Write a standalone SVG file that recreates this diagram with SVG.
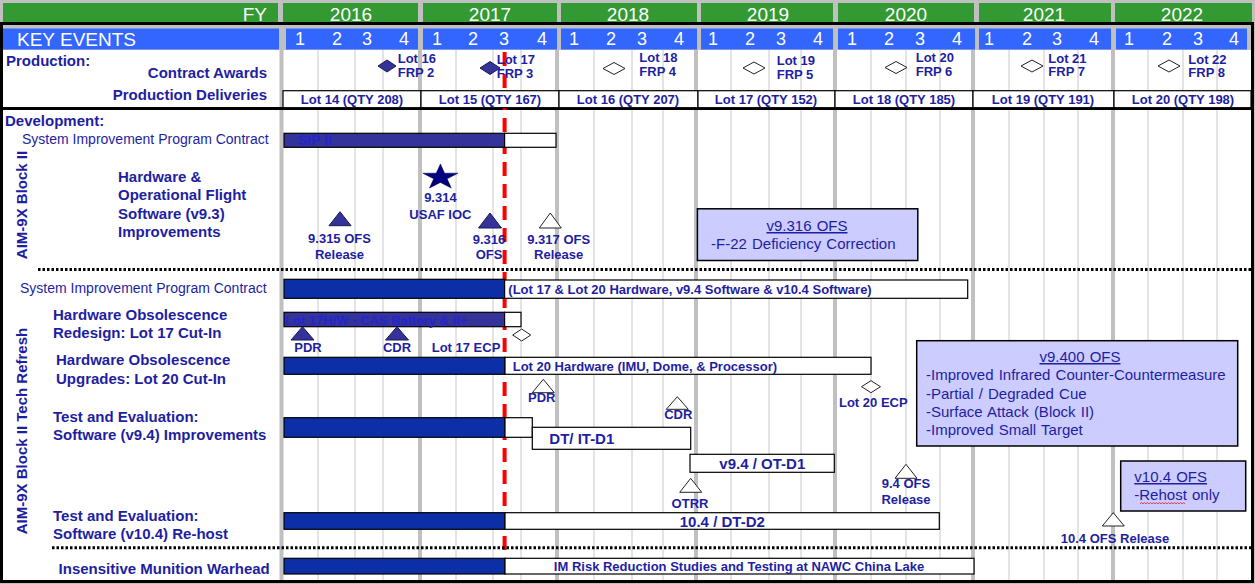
<svg xmlns="http://www.w3.org/2000/svg" width="1255" height="584" viewBox="0 0 1255 584">
<style>
text { font-family: "Liberation Sans", Arial, sans-serif; fill: #1e1ea2; }
.hdr { fill: #fff; font-size: 19px; text-anchor: middle; }
.q { fill: #fff; font-size: 18px; text-anchor: middle; }
.lbl { font-size: 15px; font-weight: bold; }
.b13 { font-size: 13px; font-weight: bold; }
.b15 { font-size: 15px; font-weight: bold; }
.r14 { font-size: 14px; }
.r15 { font-size: 15px; word-spacing: 1px; }
.mid { text-anchor: middle; }
.end { text-anchor: end; }
.ins { fill: #2424cc; }
.thin { stroke: #c8c8c8; stroke-width: 1; }
.thick { stroke: #c0c0c0; stroke-width: 4; }
.grn { fill: #339933; }
.blu { fill: #3366ff; }
.dk { fill: #0c2fa8; stroke: #000; stroke-width: 1.2; }
.sl { fill: #333399; stroke: #000; stroke-width: 1.2; }
.wb { fill: #fff; stroke: #000; stroke-width: 1.2; }
.lav { fill: #ccccff; stroke: #000; stroke-width: 1.5; }
.trif { fill: #333399; stroke: #1a1a50; stroke-width: 1; }
.trio { fill: #fff; stroke: #222; stroke-width: 1; }
.dot { stroke: #000; stroke-width: 3; stroke-dasharray: 2.5 2; fill: none; }
</style>
<rect x="0" y="0" width="1255" height="584" fill="#c0c0c0"/>
<rect x="3" y="50" width="1248" height="530" fill="#fff"/>
<g id="grid">
<line class="thin" x1="318" y1="50" x2="318" y2="580"/><line class="thin" x1="355" y1="50" x2="355" y2="580"/><line class="thin" x1="383" y1="50" x2="383" y2="580"/>
<line class="thin" x1="456" y1="50" x2="456" y2="580"/><line class="thin" x1="493" y1="50" x2="493" y2="580"/><line class="thin" x1="521" y1="50" x2="521" y2="580"/>
<line class="thin" x1="594" y1="50" x2="594" y2="580"/><line class="thin" x1="632" y1="50" x2="632" y2="580"/><line class="thin" x1="663" y1="50" x2="663" y2="580"/>
<line class="thin" x1="731" y1="50" x2="731" y2="580"/><line class="thin" x1="769" y1="50" x2="769" y2="580"/><line class="thin" x1="801" y1="50" x2="801" y2="580"/>
<line class="thin" x1="871" y1="50" x2="871" y2="580"/><line class="thin" x1="906" y1="50" x2="906" y2="580"/><line class="thin" x1="940" y1="50" x2="940" y2="580"/>
<line class="thin" x1="1009" y1="50" x2="1009" y2="580"/><line class="thin" x1="1044" y1="50" x2="1044" y2="580"/><line class="thin" x1="1078" y1="50" x2="1078" y2="580"/>
<line class="thin" x1="1148" y1="50" x2="1148" y2="580"/><line class="thin" x1="1183" y1="50" x2="1183" y2="580"/><line class="thin" x1="1217" y1="50" x2="1217" y2="580"/>
<line class="thick" x1="281.5" y1="50" x2="281.5" y2="580"/><line class="thick" x1="420" y1="50" x2="420" y2="580"/><line class="thick" x1="557" y1="50" x2="557" y2="580"/>
<line class="thick" x1="696" y1="50" x2="696" y2="580"/><line class="thick" x1="835" y1="50" x2="835" y2="580"/><line class="thick" x1="973" y1="50" x2="973" y2="580"/><line class="thick" x1="1113" y1="50" x2="1113" y2="580"/>
</g>
<g id="header">
<rect class="grn" x="3" y="3" width="275" height="19"/><text class="hdr" x="267" y="20.8" style="text-anchor:end">FY</text>
<rect class="grn" x="283" y="3" width="135" height="19"/><text class="hdr" x="351" y="20.8">2016</text>
<rect class="grn" x="423" y="3" width="134" height="19"/><text class="hdr" x="490" y="20.8">2017</text>
<rect class="grn" x="561" y="3" width="136" height="19"/><text class="hdr" x="628" y="20.8">2018</text>
<rect class="grn" x="701" y="3" width="132" height="19"/><text class="hdr" x="768" y="20.8">2019</text>
<rect class="grn" x="838" y="3" width="136" height="19"/><text class="hdr" x="906" y="20.8">2020</text>
<rect class="grn" x="979" y="3" width="132" height="19"/><text class="hdr" x="1044" y="20.8">2021</text>
<rect class="grn" x="1115" y="3" width="137" height="19"/><text class="hdr" x="1182" y="20.8">2022</text>
<rect class="blu" x="3" y="28.5" width="276" height="21"/><text class="hdr" x="17" y="45.7" style="text-anchor:start">KEY EVENTS</text>
<rect class="blu" x="286" y="28.5" width="132" height="21"/><rect class="blu" x="423" y="28.5" width="134" height="21"/><rect class="blu" x="561" y="28.5" width="136" height="21"/><rect class="blu" x="701" y="28.5" width="132" height="21"/>
<rect class="blu" x="838" y="28.5" width="137" height="21"/><rect class="blu" x="979" y="28.5" width="132" height="21"/><rect class="blu" x="1116" y="28.5" width="131" height="21"/>
<text class="q" y="45"><tspan x="300">1</tspan><tspan x="337">2</tspan><tspan x="367">3</tspan><tspan x="404">4</tspan><tspan x="437">1</tspan><tspan x="473">2</tspan><tspan x="504">3</tspan><tspan x="542">4</tspan><tspan x="574">1</tspan><tspan x="611">2</tspan><tspan x="642">3</tspan><tspan x="679">4</tspan><tspan x="713">1</tspan><tspan x="750">2</tspan><tspan x="781">3</tspan><tspan x="818">4</tspan><tspan x="852">1</tspan><tspan x="889">2</tspan><tspan x="920">3</tspan><tspan x="957">4</tspan><tspan x="989">1</tspan><tspan x="1027">2</tspan><tspan x="1057">3</tspan><tspan x="1094">4</tspan><tspan x="1129">1</tspan><tspan x="1167">2</tspan><tspan x="1198">3</tspan><tspan x="1234">4</tspan></text>
</g>
<rect x="1.5" y="23.5" width="1251" height="558" fill="none" stroke="#000" stroke-width="3"/>
<line x1="0" y1="108.5" x2="1253" y2="108.5" stroke="#000" stroke-width="3"/>
<g id="connectors">
<line x1="504.6" y1="52" x2="504.6" y2="578" stroke="#ff0000" stroke-width="4" stroke-dasharray="14 8"/>
<line class="dot" x1="38" y1="269.5" x2="1251" y2="269.5"/>
<line class="dot" x1="52" y1="547.7" x2="1251" y2="547.7"/>
</g>
<g id="production">
<text class="lbl" x="6" y="66">Production:</text>
<text class="lbl end" x="267" y="77.7">Contract Awards</text>
<text class="lbl end" x="267" y="100.3">Production Deliveries</text>
</g>
<g id="deliveries">
<rect class="wb" x="283" y="90.7" width="138" height="17"/><text class="b13 mid" x="352" y="104.3">Lot 14 (QTY 208)</text>
<rect class="wb" x="421" y="90.7" width="138" height="17"/><text class="b13 mid" x="490" y="104.3">Lot 15 (QTY 167)</text>
<rect class="wb" x="559" y="90.7" width="139" height="17"/><text class="b13 mid" x="628" y="104.3">Lot 16 (QTY 207)</text>
<rect class="wb" x="698" y="90.7" width="137" height="17"/><text class="b13 mid" x="766" y="104.3">Lot 17 (QTY 152)</text>
<rect class="wb" x="835" y="90.7" width="138" height="17"/><text class="b13 mid" x="904" y="104.3">Lot 18 (QTY 185)</text>
<rect class="wb" x="973" y="90.7" width="141" height="17"/><text class="b13 mid" x="1043" y="104.3">Lot 19 (QTY 191)</text>
<rect class="wb" x="1114" y="90.7" width="137" height="17"/><text class="b13 mid" x="1183" y="104.3">Lot 20 (QTY 198)</text>
</g>
<g id="awards">
<path class="trif" d="M378,66 L387,60 L396,66 L387,72 Z"/><text class="b13" x="397.7" y="62.7">Lot 16</text><text class="b13" x="397.7" y="76.7">FRP 2</text>
<path class="trif" d="M480,68 L490,61.5 L500,68 L490,74.5 Z"/><text class="b13" x="496.7" y="63.7">Lot 17</text><text class="b13" x="496.7" y="77.7">FRP 3</text>
<path class="trio" d="M603,68.5 L614,62.5 L625,68.5 L614,74.5 Z"/><text class="b13" x="639.3" y="62">Lot 18</text><text class="b13" x="639.3" y="75.7">FRP 4</text>
<path class="trio" d="M743,68 L754,62 L765,68 L754,74 Z"/><text class="b13" x="776.7" y="65.4">Lot 19</text><text class="b13" x="776.7" y="78.7">FRP 5</text>
<path class="trio" d="M885,67.5 L896,61.5 L907,67.5 L896,73.5 Z"/><text class="b13" x="915.7" y="62">Lot 20</text><text class="b13" x="915.7" y="76">FRP 6</text>
<path class="trio" d="M1021,66 L1032,60 L1043,66 L1032,72 Z"/><text class="b13" x="1048.3" y="63">Lot 21</text><text class="b13" x="1048.3" y="76.4">FRP 7</text>
<path class="trio" d="M1158,66 L1169,60 L1180,66 L1169,72 Z"/><text class="b13" x="1188.3" y="64">Lot 22</text><text class="b13" x="1188.3" y="77.4">FRP 8</text>
</g>
<g id="side-labels">
<text class="lbl" x="5" y="126">Development:</text>
<text class="lbl mid" transform="translate(26.5,205) rotate(-90)">AIM-9X Block II</text>
<text class="lbl mid" transform="translate(26.5,431) rotate(-90)">AIM-9X Block II Tech Refresh</text>
</g>
<g id="sip-block2">
<text class="r14" x="22" y="144.3">System Improvement Program Contract</text>
<rect class="sl" x="284" y="133.3" width="220.6" height="14"/>
<rect class="wb" x="504.6" y="133.3" width="51.4" height="14"/>
<text class="ins" x="298" y="145.3" style="font-size:14px;font-weight:bold">SIP II</text>
</g>
<g id="ofs-v93">
<text class="lbl" x="118" y="181.8">Hardware &amp;</text>
<text class="lbl" x="118" y="200.2">Operational Flight</text>
<text class="lbl" x="118" y="218.5">Software (v9.3)</text>
<text class="lbl" x="118" y="236.9">Improvements</text>
</g>
<g id="ms-9315"><path class="trif" d="M340,211.7 L351,225.7 L329,225.7 Z"/><text class="b13 mid" x="339.5" y="243">9.315 OFS</text><text class="b13 mid" x="339.5" y="258.7">Release</text></g>
<g id="ms-9314"><path fill="#000080" stroke="#000040" stroke-width="0.6" transform="translate(440.4,177.3) scale(1,0.72)" d="M0,-18.5 L4.16,-5.72 L17.59,-5.72 L6.72,2.18 L10.88,14.97 L0,7.07 L-10.88,14.97 L-6.72,2.18 L-17.59,-5.72 L-4.16,-5.72 Z"/><text class="b13 mid" x="440.4" y="201.7">9.314</text><text class="b13 mid" x="440.4" y="218.7">USAF IOC</text></g>
<g id="ms-9316"><path class="trif" d="M490,213 L501.5,228 L478.5,228 Z"/><text class="b13 mid" x="489" y="244">9.316</text><text class="b13 mid" x="489" y="259">OFS</text></g>
<g id="ms-9317"><path class="trio" d="M550.3,213 L561.3,228 L539.3,228 Z"/><text class="b13 mid" x="558.7" y="244">9.317 OFS</text><text class="b13 mid" x="558.7" y="259">Release</text></g>
<g id="note-v9316">
<rect class="lav" x="697.4" y="208.8" width="220.4" height="51.7"/>
<text class="r15 mid" x="807" y="231" text-decoration="underline">v9.316 OFS</text>
<text class="r15" x="711" y="249">-F-22 Deficiency Correction</text>
</g>
<g id="sip-refresh">
<text class="r14" x="20" y="293.3">System Improvement Program Contract</text>
<rect class="dk" x="284" y="279.3" width="220.6" height="19"/>
<rect class="wb" x="504.6" y="280" width="463.1" height="18.3"/>
<text class="b13" x="508.3" y="294">(Lot 17 &amp; Lot 20 Hardware, v9.4 Software &amp; v10.4 Software)</text>
</g>
<g id="hw-lot17">
<text class="lbl" x="53" y="320.2">Hardware Obsolescence</text>
<text class="lbl" x="53" y="338">Redesign: Lot 17 Cut-In</text>
<rect class="sl" x="284" y="312.3" width="220.6" height="14.4"/>
<rect class="wb" x="504.6" y="312.3" width="16.4" height="14.4"/>
<text class="b13 ins" x="285" y="324.5">Lot 17H/W - CAS Battery &amp; II+</text>
<path class="trif" d="M302.5,326.7 L314,340 L291,340 Z"/><text class="b13 mid" x="308" y="352">PDR</text>
<path class="trif" d="M397,326.7 L408.5,340 L385.5,340 Z"/><text class="b13 mid" x="397" y="352">CDR</text>
<path class="trio" d="M512.7,335 L521.7,329 L530.7,335 L521.7,341 Z"/><text class="b13 mid" x="466" y="352">Lot 17 ECP</text>
</g>
<g id="hw-lot20">
<text class="lbl" x="56" y="365.2">Hardware Obsolescence</text>
<text class="lbl" x="56" y="383.5">Upgrades: Lot 20 Cut-In</text>
<rect class="dk" x="284" y="357.3" width="221" height="17"/>
<rect class="wb" x="505" y="357.3" width="366" height="17"/>
<text class="b13" x="512.7" y="370.5">Lot 20 Hardware (IMU, Dome, &amp; Processor)</text>
<path class="trio" d="M543.3,379.3 L554.3,392.7 L532.3,392.7 Z"/><text class="b13 mid" x="541.7" y="402">PDR</text>
<path class="trio" d="M677.3,396.7 L688.3,409.3 L666.3,409.3 Z"/><text class="b13 mid" x="678.3" y="418.7">CDR</text>
<path class="trio" d="M861.5,386.7 L871,380.7 L880.5,386.7 L871,392.7 Z"/><text class="b13 mid" x="873.3" y="407">Lot 20 ECP</text>
</g>
<g id="te-v94">
<text class="lbl" x="53" y="421.9">Test and Evaluation:</text>
<text class="lbl" x="53" y="439.5">Software (v9.4) Improvements</text>
<rect class="dk" x="284" y="417.7" width="221" height="19.6"/>
<rect class="wb" x="505" y="417.7" width="27.3" height="19.6"/>
<rect class="wb" x="532.3" y="427.3" width="158.4" height="22"/>
<text class="b15" x="549.3" y="444.4">DT/ IT-D1</text>
<rect class="wb" x="690" y="454.3" width="144.3" height="18"/>
<text class="b15 mid" x="762.3" y="469.4">v9.4 / OT-D1</text>
<path class="trio" d="M690.7,478.3 L701.7,492.3 L679.7,492.3 Z"/><text class="b13 mid" x="690" y="508">OTRR</text>
<path class="trio" d="M906,464.3 L917,478.3 L895,478.3 Z"/><text class="b13 mid" x="906" y="488">9.4 OFS</text><text class="b13 mid" x="906" y="504">Release</text>
</g>
<g id="note-v9400">
<rect class="lav" x="916.7" y="340.7" width="321" height="105.3"/>
<text class="r15 mid" x="1080" y="362" text-decoration="underline">v9.400 OFS</text>
<text class="r15" x="926" y="380.4">-Improved Infrared Counter-Countermeasure</text>
<text class="r15" x="926" y="398.7">-Partial / Degraded Cue</text>
<text class="r15" x="926" y="417.1">-Surface Attack (Block II)</text>
<text class="r15" x="926" y="435.4">-Improved Small Target</text>
</g>
<g id="te-v104">
<text class="lbl" x="53" y="521.2">Test and Evaluation:</text>
<text class="lbl" x="53" y="539.2">Software (v10.4) Re-host</text>
<rect class="dk" x="284" y="512.7" width="221" height="16.6"/>
<rect class="wb" x="505" y="512.7" width="434.3" height="16.6"/>
<text class="b15 mid" x="722.3" y="527">10.4 / DT-D2</text>
<path class="trio" d="M1113.3,512.7 L1124.3,526 L1102.3,526 Z"/><text class="b13 mid" x="1115" y="543">10.4 OFS Release</text>
</g>
<g id="note-v104">
<rect class="lav" x="1120.7" y="461" width="125" height="50"/>
<text class="r15" x="1134.3" y="482" text-decoration="underline">v10.4 OFS</text>
<text class="r15" x="1134.3" y="500.4">-Rehost only</text>
<path fill="none" stroke="#e02020" stroke-width="0.8" d="M1140,503.8 l1.5,-1.2 l1.5,1.2 l1.5,-1.2 l1.5,1.2 l1.5,-1.2 l1.5,1.2 l1.5,-1.2 l1.5,1.2 l1.5,-1.2 l1.5,1.2 l1.5,-1.2 l1.5,1.2 l1.5,-1.2 l1.5,1.2 l1.5,-1.2 l1.5,1.2 l1.5,-1.2 l1.5,1.2 l1.5,-1.2 l1.5,1.2 l1.5,-1.2 l1.5,1.2 l1.5,-1.2 l1.5,1.2 l1.5,-1.2 l1.5,1.2 l1.5,-1.2 l1.5,1.2 l1.5,-1.2 l1.5,1.2"/>
</g>
<g id="im-warhead">
<text class="lbl" x="58.6" y="573.5">Insensitive Munition Warhead</text>
<rect class="dk" x="284" y="558.3" width="221" height="15.7"/>
<rect class="wb" x="505" y="558.3" width="469" height="15.7"/>
<text class="b13 mid" x="739" y="571.4">IM Risk Reduction Studies and Testing at NAWC China Lake</text>
</g>
</svg>
